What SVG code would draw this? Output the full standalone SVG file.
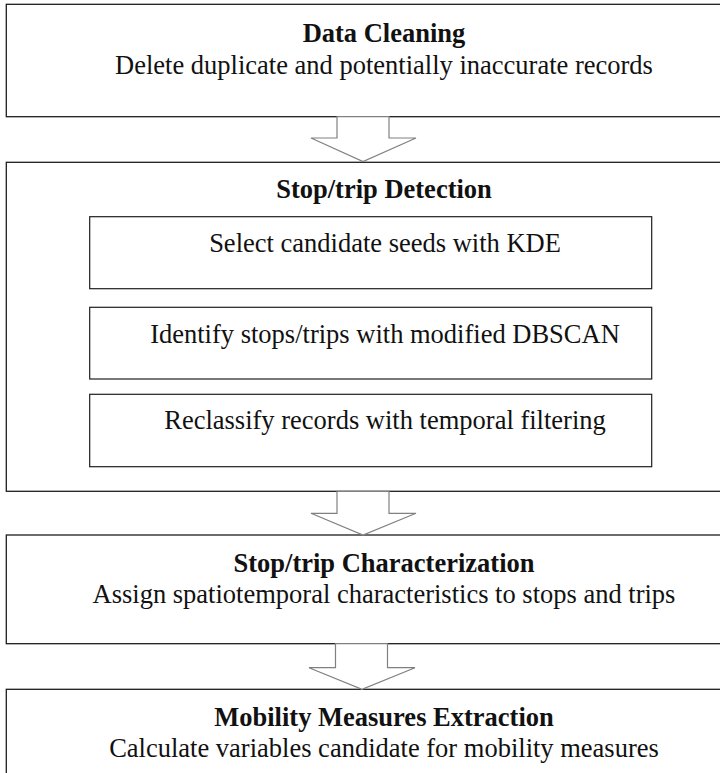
<svg xmlns="http://www.w3.org/2000/svg" width="720" height="773" viewBox="0 0 720 773">
  <style>
    .box { fill: #ffffff; stroke: #1e1e1e; stroke-width: 1.3; }
    .inner { fill: #ffffff; stroke: #1e1e1e; stroke-width: 1.2; }
    .arrow { fill: #ffffff; stroke: #808080; stroke-width: 1.2; stroke-linejoin: miter; }
    text { font-family: "Liberation Serif", "Times New Roman", serif; font-size: 26.5px; fill: #111111; text-anchor: middle; }
    .title { font-weight: bold; }
  </style>
  <rect width="720" height="773" fill="#ffffff"/>

  <g id="data-cleaning">
    <rect class="box" x="6.3" y="4.3" width="780" height="112.4"/>
    <text class="title" x="384" y="42">Data Cleaning</text>
    <text x="384" y="73.5">Delete duplicate and potentially inaccurate records</text>
  </g>

  <g id="stop-trip-detection">
    <rect class="box" x="6.3" y="162.3" width="780" height="329"/>
    <text class="title" x="384" y="198.3">Stop/trip Detection</text>
    <g id="select-seeds">
      <rect class="inner" x="89.7" y="216.7" width="562" height="72"/>
      <text x="385" y="251.7">Select candidate seeds with KDE</text>
    </g>
    <g id="identify-stops">
      <rect class="inner" x="89.7" y="307.3" width="562" height="71.7"/>
      <text x="385" y="342.7">Identify stops/trips with modified DBSCAN</text>
    </g>
    <g id="reclassify-records">
      <rect class="inner" x="89.7" y="394.3" width="562" height="72.4"/>
      <text x="385" y="429.3">Reclassify records with temporal filtering</text>
    </g>
  </g>

  <g id="stop-trip-characterization">
    <rect class="box" x="6.3" y="535" width="780" height="108.7"/>
    <text class="title" x="384" y="572.3">Stop/trip Characterization</text>
    <text x="384" y="603.3">Assign spatiotemporal characteristics to stops and trips</text>
  </g>

  <g id="mobility-measures">
    <rect class="box" x="6.3" y="689.3" width="780" height="120"/>
    <text class="title" x="384" y="726">Mobility Measures Extraction</text>
    <text x="384" y="756.7">Calculate variables candidate for mobility measures</text>
  </g>

  <g id="connectors">
    <polygon class="arrow" points="337,116.7 389,116.7 389,138 416,138 363,161.5 311,138 337,138"/>
    <polygon class="arrow" points="337,491.3 389,491.3 389,513.3 416,513.3 363,535 311,513.3 337,513.3"/>
    <polygon class="arrow" points="335.5,643.7 387.5,643.7 387.5,667.7 415,667.7 362,689.3 309,667.7 335.5,667.7"/>
  </g>
</svg>
